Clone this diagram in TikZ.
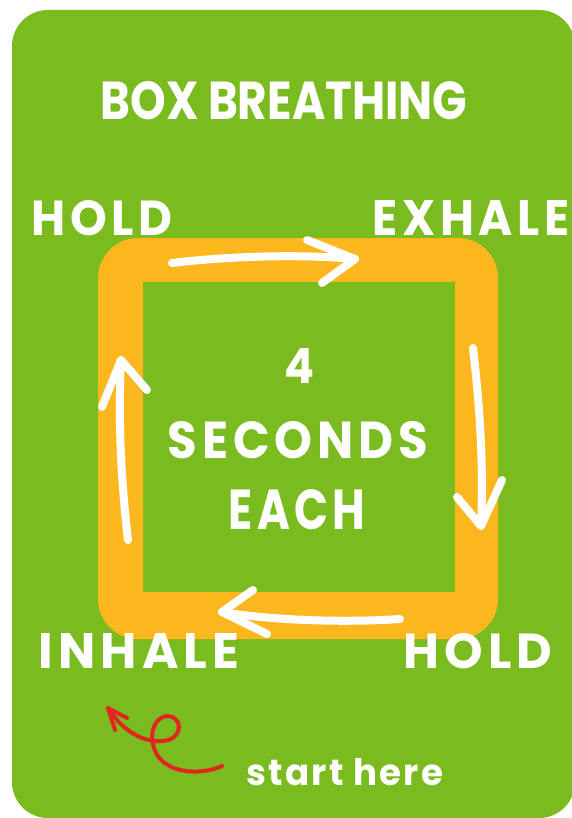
\documentclass[tikz,border=0pt]{standalone}
\usepackage{fontspec}
\setmainfont{Poppins}
\usepackage{graphicx}
\definecolor{cardgreen}{HTML}{7ABC20}
\definecolor{boxorange}{HTML}{FDB71E}
\definecolor{curlred}{HTML}{E0261F}
\newcommand{\fitt}[3]{\resizebox{#1pt}{#2pt}{#3}}
\newcommand{\spaced}{\addfontfeature{LetterSpace=10}}
\tikzset{
  lbl/.style={inner sep=0pt, text=white, font=\bfseries},
  warrow/.style={draw=white, line width=8pt, line cap=round, line join=round},
  rarrow/.style={draw=curlred, line width=4pt, line cap=round, line join=round}
}
\begin{document}
\begin{tikzpicture}[x=1pt,y=-1pt]
\useasboundingbox (0,0) rectangle (572,818);
\fill[white] (0,0) rectangle (572,818);
% card
\fill[cardgreen, rounded corners=36pt] (12,10) rectangle (575,818);
% orange frame
\fill[boxorange, rounded corners=40pt] (98,238) rectangle (498,639);
\fill[cardgreen] (143,282) rectangle (455,592);
% title and labels
\node[lbl] (title) at (284,101) {\fitt{367}{38}{BOX BREATHING}};
\node[lbl] (holdtl) at (102,218) {\fitt{141}{35}{\spaced HOLD}};
\node[lbl] (exhale) at (471,218) {\fitt{197}{35}{\spaced EXHALE}};
\node[lbl] (inhale) at (139,651) {\fitt{200}{35}{\spaced INHALE}};
\node[lbl] (holdbr) at (478,651) {\fitt{148}{35}{\spaced HOLD}};
\node[lbl] (four) at (299,366) {\fitt{30}{35}{4}};
\node[lbl] (seconds) at (298,440) {\fitt{260}{37}{\spaced SECONDS}};
\node[lbl] (each) at (297,510) {\fitt{137}{40}{\spaced EACH}};
\node[lbl, anchor=base] (start) at (345,785) {\fitt{196}{27}{\addfontfeature{LetterSpace=6}start here}};
% white arrows
\coordinate (t1) at (172,263); \coordinate (t2) at (355,259);
\draw[warrow] (t1) .. controls (230,256) and (300,254) .. (t2);
\draw[warrow] (307,240) -- (t2) -- (322,283);
\coordinate (r1) at (473,348); \coordinate (r2) at (481,526);
\draw[warrow] (r1) .. controls (479,400) and (484,460) .. (r2);
\draw[warrow] (457,497) -- (r2) -- (502,480);
\coordinate (b1) at (400,619); \coordinate (b2) at (222,612);
\draw[warrow] (b1) .. controls (340,623) and (270,620) .. (b2);
\draw[warrow] (253,590) -- (b2) -- (267,634);
\coordinate (l1) at (128,540); \coordinate (l2) at (121,360);
\draw[warrow] (l1) .. controls (121,480) and (118,420) .. (l2);
\draw[warrow] (102,407) -- (l2) -- (147,390);
% red curly arrow
\coordinate (c1) at (222,766); \coordinate (c2) at (108,708);
\draw[rarrow] (c1) .. controls (200,776) and (162,774) .. (154,748)
  .. controls (148,728) and (158,716) .. (168,716)
  .. controls (182,717) and (183,736) .. (168,740)
  .. controls (150,745) and (125,735) .. (c2);
\draw[rarrow] (115,730) -- (c2) -- (127,718);
\end{tikzpicture}
\end{document}
